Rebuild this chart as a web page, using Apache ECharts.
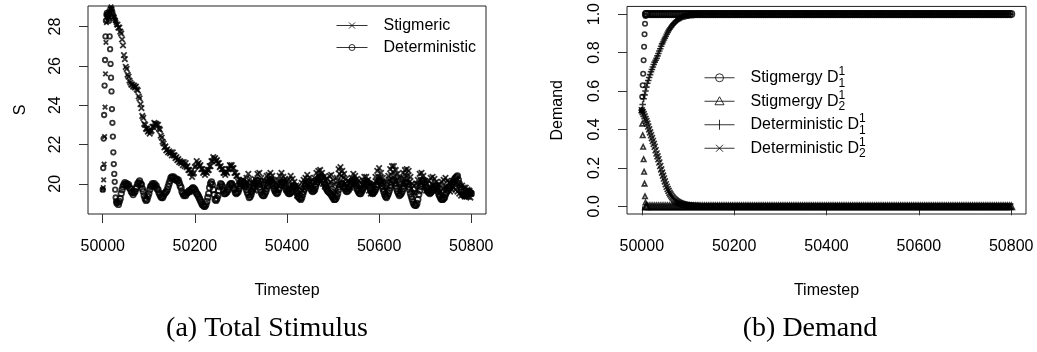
<!DOCTYPE html>
<html><head><meta charset="utf-8">
<script src="https://cdn.jsdelivr.net/npm/echarts@6/dist/echarts.min.js"></script>
<style>html,body{margin:0;padding:0;background:#fff}#c{width:1037px;height:352px}</style>
</head><body><div id="c"></div>
<script>
function seq(a, b, s) { const r = []; for (let v = a; v <= b; v += s) r.push(v); return r; }

// ---------- (a) Total Stimulus ----------
// timesteps: every step up to 50030, then every 2nd step
const stimulusT = seq(50000, 50030, 1).concat(seq(50032, 50800, 2));
const stigmericS = [
  19.7, 19.8, 20.2, 21.0, 22.4, 23.9, 25.6, 27.2, 28.2, 28.5,
  28.6, 28.5, 28.7, 28.6, 28.8, 28.7, 28.9, 28.9, 29.0, 28.9,
  28.9, 28.8, 28.7, 28.6, 28.5, 28.5, 28.4, 28.3, 28.3, 28.2, 28.1,
  28.1, 27.95, 27.95, 27.75, 27.65, 27.35, 27.05, 26.55, 26.35, 25.95,
  25.85, 25.55, 25.45, 25.25, 25.15, 25.05, 25.05, 24.95, 25.0, 24.9,
  24.95, 24.8, 24.75, 24.45, 24.35, 24.05, 23.85, 23.45, 23.35, 23.05,
  23.0, 22.8, 22.8, 22.65, 22.7, 22.55, 22.65, 22.7, 22.9, 22.9,
  23.1, 23.05, 23.05, 23.0, 23.0, 22.8, 22.75, 22.45, 22.35, 22.15,
  22.05, 21.85, 21.9, 21.7, 21.75, 21.6, 21.65, 21.55, 21.6, 21.45,
  21.6, 21.45, 21.45, 21.3, 21.35, 21.2, 21.25, 21.1, 21.15, 21.05,
  21.1, 20.95, 21.1, 20.9, 21.05, 20.85, 20.9, 20.7, 20.7, 20.55,
  20.55, 20.35, 20.5, 20.55, 20.85, 20.9, 21.15, 21.0, 21.05, 20.9,
  20.95, 20.75, 20.75, 20.55, 20.6, 20.45, 20.6, 20.55, 20.7, 20.7,
  20.9, 20.9, 21.15, 21.15, 21.35, 21.25, 21.3, 21.15, 21.2, 21.05,
  21.05, 20.85, 20.9, 20.75, 20.75, 20.55, 20.55, 20.45, 20.6, 20.55,
  20.75, 20.75, 20.95, 20.9, 20.95, 20.8, 20.8, 20.55, 20.55, 20.4,
  20.4, 20.1, 20.2, 19.9, 20.15, 20.1, 20.2, 19.85, 20.0, 19.9,
  20.3, 20.05, 20.5, 20.0, 20.25, 19.75, 20.05, 19.7, 20.0, 19.65,
  20.2, 19.95, 20.5, 20.05, 20.55, 20.0, 20.3, 19.95, 20.15, 19.7,
  20.15, 19.85, 20.4, 20.1, 20.45, 20.2, 20.55, 20.25, 20.4, 19.9,
  20.15, 19.65, 20.0, 19.7, 20.2, 19.9, 20.4, 20.05, 20.55, 20.1,
  20.35, 20.0, 20.25, 19.7, 20.15, 19.65, 20.2, 19.9, 20.4, 19.95,
  20.25, 19.9, 20.1, 19.6, 19.9, 19.4, 19.85, 19.5, 19.8, 19.55,
  20.05, 19.65, 20.2, 19.75, 20.3, 19.95, 20.45, 20.0, 20.3, 19.85,
  20.15, 19.7, 20.2, 19.75, 20.3, 20.05, 20.55, 20.1, 20.65, 20.35,
  20.7, 20.2, 20.55, 20.0, 20.35, 19.85, 20.2, 19.75, 20.25, 19.95,
  20.4, 20.1, 20.45, 19.9, 20.2, 19.65, 19.95, 19.6, 20.3, 20.15,
  20.75, 20.5, 20.85, 20.4, 20.65, 20.3, 20.5, 20.0, 20.25, 19.8,
  20.15, 19.7, 20.05, 19.8, 20.3, 19.9, 20.5, 20.05, 20.4, 19.95,
  20.25, 19.8, 20.15, 19.7, 20.05, 19.75, 20.2, 19.9, 20.35, 20.0,
  20.35, 19.9, 20.2, 19.65, 20.0, 19.5, 19.95, 19.5, 20.0, 19.75,
  20.35, 20.1, 20.65, 20.35, 20.8, 20.3, 20.55, 20.05, 20.3, 19.8,
  20.1, 19.65, 20.1, 19.85, 20.4, 20.2, 20.75, 20.45, 20.9, 20.6,
  20.9, 20.4, 20.7, 20.2, 20.5, 20.0, 20.3, 19.8, 20.3, 20.05,
  20.55, 20.25, 20.7, 20.4, 20.75, 20.4, 20.65, 20.1, 20.35, 19.75,
  20.0, 19.55, 19.9, 19.55, 20.0, 19.7, 20.2, 19.95, 20.5, 20.2,
  20.55, 20.1, 20.4, 19.85, 20.15, 19.65, 20.0, 19.65, 20.15, 19.8,
  20.3, 20.0, 20.35, 19.9, 20.25, 19.75, 20.1, 19.65, 19.95, 19.5,
  19.95, 19.6, 20.1, 19.75, 20.2, 19.85, 20.3, 19.85, 20.15, 19.7,
  20.05, 19.6, 20.05, 19.7, 20.15, 19.8, 20.15, 19.7, 20.05, 19.6,
  19.95, 19.5, 19.85, 19.4, 19.9, 19.45, 19.8, 19.35, 19.8, 19.35,
  19.7, 19.35, 19.65, 19.3, 19.5
];
const deterministicS = [
  19.7, 20.8, 22.3, 23.5, 25.0, 26.3, 27.5, 28.3, 28.6, 28.7,
  28.6, 28.5, 28.6, 28.4, 28.3,
  27.5, 26.85, 26.1, 25.4, 24.7, 23.8, 23.1, 22.4, 21.6, 21.0,
  20.5, 20.1, 19.7, 19.3, 19.1, 19.0,
  19.05, 18.95, 19.1, 19.25, 19.5, 19.7, 19.85, 19.95, 20.05, 19.95,
  20.0, 19.9, 19.95, 19.8, 19.75, 19.6, 19.55, 19.45, 19.55, 19.6,
  19.75, 19.85, 20.0, 20.05, 20.15, 20.0, 19.95, 19.75, 19.6, 19.4,
  19.25, 19.15, 19.2, 19.35, 19.5, 19.7, 19.85, 19.9, 20.0, 19.9,
  20.0, 19.85, 19.9, 19.75, 19.7, 19.55, 19.45, 19.35, 19.3, 19.3,
  19.4, 19.5, 19.55, 19.6, 19.7, 19.85, 20.0, 20.15, 20.3, 20.35,
  20.3, 20.35, 20.25, 20.2, 20.25, 20.15, 20.2, 20.05, 19.9, 19.8,
  19.6, 19.5, 19.4, 19.45, 19.4, 19.5, 19.55, 19.6, 19.65, 19.6,
  19.7, 19.75, 19.8, 19.75, 19.7, 19.6, 19.5, 19.45, 19.35, 19.25,
  19.15, 19.05, 18.95, 18.9, 18.85, 18.85, 18.95, 19.1, 19.3, 19.5,
  19.8, 20.0, 20.1, 19.95, 19.7, 19.45, 19.2, 19.15, 19.25, 19.4,
  19.65, 19.85, 20.0, 19.95, 19.85, 19.65, 19.5, 19.5, 19.55, 19.6,
  19.7, 19.85, 19.95, 20.0, 20.0, 19.9, 19.8, 19.7, 19.55, 19.5,
  19.55, 19.6, 19.75, 19.9, 20.0, 20.1, 20.1, 20.05, 19.9, 19.85,
  19.7, 19.55, 19.45, 19.3, 19.35, 19.45, 19.6, 19.75, 19.9, 20.0,
  20.1, 20.2, 20.15, 20.0, 19.85, 19.7, 19.55, 19.45, 19.4, 19.4,
  19.5, 19.6, 19.75, 19.9, 20.05, 20.1, 20.2, 20.15, 20.05, 19.9,
  19.75, 19.65, 19.55, 19.5, 19.55, 19.7, 19.8, 19.95, 20.05, 20.1,
  20.05, 20.0, 19.9, 19.75, 19.65, 19.55, 19.5, 19.5, 19.55, 19.6,
  19.75, 19.85, 19.9, 19.8, 19.65, 19.5, 19.35, 19.3, 19.25, 19.2,
  19.3, 19.45, 19.6, 19.75, 19.9, 20.0, 20.1, 20.05, 19.95, 19.9,
  19.75, 19.65, 19.6, 19.65, 19.7, 19.85, 20.0, 20.1, 20.2, 20.3,
  20.35, 20.4, 20.35, 20.25, 20.1, 19.95, 19.85, 19.75, 19.65, 19.6,
  19.55, 19.5, 19.45, 19.35, 19.3, 19.2, 19.2, 19.25, 19.35, 19.5,
  19.7, 19.85, 19.95, 20.0, 20.0, 19.9, 19.85, 19.75, 19.65, 19.6,
  19.65, 19.75, 19.85, 20.0, 20.1, 20.15, 20.2, 20.1, 20.0, 19.9,
  19.75, 19.65, 19.55, 19.5, 19.5, 19.6, 19.7, 19.8, 19.9, 20.0,
  20.05, 20.1, 20.05, 19.95, 19.8, 19.65, 19.55, 19.5, 19.55, 19.6,
  19.7, 19.85, 19.95, 20.1, 20.2, 20.15, 20.05, 19.9, 19.75, 19.6,
  19.45, 19.35, 19.3, 19.4, 19.5, 19.65, 19.8, 19.95, 20.1, 20.2,
  20.15, 20.05, 19.9, 19.75, 19.6, 19.5, 19.4, 19.45, 19.5, 19.6,
  19.75, 19.9, 20.0, 20.05, 20.1, 20.0, 19.85, 19.7, 19.5, 19.35,
  19.2, 19.05, 18.95, 18.9, 18.9, 19.0, 19.2, 19.45, 19.65, 19.85,
  20.0, 20.15, 20.2, 20.1, 19.95, 19.8, 19.7, 19.6, 19.55, 19.5,
  19.55, 19.6, 19.7, 19.8, 19.85, 19.9, 19.85, 19.75, 19.6, 19.45,
  19.35, 19.25, 19.2, 19.2, 19.25, 19.3, 19.45, 19.55, 19.65, 19.75,
  19.8, 19.85, 19.9, 20.0, 20.05, 20.15, 20.25, 20.3, 20.35, 20.4,
  20.2, 20.0, 19.85, 19.7, 19.55, 19.45, 19.4, 19.4, 19.45, 19.5,
  19.55, 19.6, 19.6, 19.55, 19.5
];

// ---------- (b) Demand ----------
const stigT = seq(50000, 50010, 1).concat(seq(50012, 50800, 4));
const stigD1 = [
  0.5, 0.57, 0.63, 0.69, 0.76, 0.83, 0.895, 0.95, 0.99, 1.0, 1.0,
  1,1,1,1,1,1,1,1,1,1,1,1,1,1,1,1,1,1,1,1,
  1,1,1,1,1,1,1,1,1,1,1,1,1,1,1,1,1,1,1,1,
  1,1,1,1,1,1,1,1,1,1,1,1,1,1,1,1,1,1,1,1,
  1,1,1,1,1,1,1,1,1,1,1,1,1,1,1,1,1,1,1,1,
  1,1,1,1,1,1,1,1,1,1,1,1,1,1,1,1,1,1,1,1,
  1,1,1,1,1,1,1,1,1,1,1,1,1,1,1,1,1,1,1,1,
  1,1,1,1,1,1,1,1,1,1,1,1,1,1,1,1,1,1,1,1,
  1,1,1,1,1,1,1,1,1,1,1,1,1,1,1,1,1,1,1,1,
  1,1,1,1,1,1,1,1,1,1,1,1,1,1,1,1,1,1,1,1,
  1,1,1,1,1,1,1,1,1,1,1,1,1,1,1,1,1,1
];
const stigD2 = [
  0.5, 0.43, 0.37, 0.31, 0.245, 0.18, 0.118, 0.052, 0.02, 0.0, 0.0,
  0,0,0,0,0,0,0,0,0,0,0,0,0,0,0,0,0,0,0,0,
  0,0,0,0,0,0,0,0,0,0,0,0,0,0,0,0,0,0,0,0,
  0,0,0,0,0,0,0,0,0,0,0,0,0,0,0,0,0,0,0,0,
  0,0,0,0,0,0,0,0,0,0,0,0,0,0,0,0,0,0,0,0,
  0,0,0,0,0,0,0,0,0,0,0,0,0,0,0,0,0,0,0,0,
  0,0,0,0,0,0,0,0,0,0,0,0,0,0,0,0,0,0,0,0,
  0,0,0,0,0,0,0,0,0,0,0,0,0,0,0,0,0,0,0,0,
  0,0,0,0,0,0,0,0,0,0,0,0,0,0,0,0,0,0,0,0,
  0,0,0,0,0,0,0,0,0,0,0,0,0,0,0,0,0,0,0,0,
  0,0,0,0,0,0,0,0,0,0,0,0,0,0,0,0,0,0
];
const detT = seq(50000, 50120, 2).concat(seq(50122, 50798, 4));
const detD1 = [
  0.5, 0.53, 0.56, 0.58, 0.60, 0.62, 0.64, 0.655, 0.67, 0.685,
  0.70, 0.712, 0.725, 0.738, 0.75, 0.76, 0.77, 0.783, 0.795, 0.808,
  0.82, 0.833, 0.845, 0.855, 0.865, 0.875, 0.885, 0.895, 0.905, 0.914,
  0.922, 0.929, 0.935, 0.942, 0.948, 0.953, 0.958, 0.963, 0.967, 0.971,
  0.974, 0.977, 0.980, 0.983, 0.985, 0.987, 0.988, 0.989, 0.99, 0.991,
  0.992, 0.993, 0.994, 0.995, 0.995, 0.996, 0.996, 0.997, 0.997, 0.998, 0.998,
  1,1,1,1,1,1,1,1,1,1,1,1,1,1,1,1,1,1,1,1,
  1,1,1,1,1,1,1,1,1,1,1,1,1,1,1,1,1,1,1,1,
  1,1,1,1,1,1,1,1,1,1,1,1,1,1,1,1,1,1,1,1,
  1,1,1,1,1,1,1,1,1,1,1,1,1,1,1,1,1,1,1,1,
  1,1,1,1,1,1,1,1,1,1,1,1,1,1,1,1,1,1,1,1,
  1,1,1,1,1,1,1,1,1,1,1,1,1,1,1,1,1,1,1,1,
  1,1,1,1,1,1,1,1,1,1,1,1,1,1,1,1,1,1,1,1,
  1,1,1,1,1,1,1,1,1,1,1,1,1,1,1,1,1,1,1,1,
  1,1,1,1,1,1,1,1,1,1
];
const detD2 = [
  0.5, 0.49, 0.48, 0.468, 0.455, 0.443, 0.43, 0.415, 0.40, 0.385,
  0.37, 0.355, 0.34, 0.325, 0.31, 0.292, 0.275, 0.26, 0.245, 0.228,
  0.21, 0.192, 0.175, 0.16, 0.145, 0.13, 0.115, 0.102, 0.09, 0.08,
  0.07, 0.062, 0.055, 0.048, 0.042, 0.037, 0.032, 0.028, 0.025, 0.022,
  0.019, 0.017, 0.015, 0.013, 0.012, 0.01, 0.009, 0.008, 0.007, 0.006,
  0.005, 0.0045, 0.004, 0.0035, 0.003, 0.0025, 0.002, 0.002, 0.002, 0.0015, 0.001,
  0,0,0,0,0,0,0,0,0,0,0,0,0,0,0,0,0,0,0,0,
  0,0,0,0,0,0,0,0,0,0,0,0,0,0,0,0,0,0,0,0,
  0,0,0,0,0,0,0,0,0,0,0,0,0,0,0,0,0,0,0,0,
  0,0,0,0,0,0,0,0,0,0,0,0,0,0,0,0,0,0,0,0,
  0,0,0,0,0,0,0,0,0,0,0,0,0,0,0,0,0,0,0,0,
  0,0,0,0,0,0,0,0,0,0,0,0,0,0,0,0,0,0,0,0,
  0,0,0,0,0,0,0,0,0,0,0,0,0,0,0,0,0,0,0,0,
  0,0,0,0,0,0,0,0,0,0,0,0,0,0,0,0,0,0,0,0,
  0,0,0,0,0,0,0,0,0,0
];

// ---------- ticks & labels ----------
const timeTicks = [50000, 50200, 50400, 50600, 50800];
const stimTicks = [20, 22, 24, 26, 28];
const demandTicks = [0, 0.2, 0.4, 0.6, 0.8, 1.0];
const captions = ['(a) Total Stimulus', '(b) Demand'];

const pairs = (t, v) => t.map((x, i) => [x, v[i]]);
const FONT = '"Liberation Sans", Arial, Helvetica, sans-serif';
const hollow = { color: 'rgba(0,0,0,0)', borderColor: '#000', borderWidth: 1 };
const heavy = { color: 'rgba(0,0,0,0)', borderColor: '#000', borderWidth: 1.6 };
const heavier = { color: 'rgba(0,0,0,0)', borderColor: '#000', borderWidth: 1.8 };
const SYM_X = 'path://M0 0L10 10M10 0L0 10';
const SYM_PLUS = 'path://M5 0L5 10M0 5L10 5';
// small marks during the sparse transient, full-size marks where points pile up
const bandSize = v => (v[1] > 0.001 && v[1] < 0.999) ? 4.5 : 6.5;
const stimSize = v => (v[0] <= 50030) ? 4.5 : 5.5;

const L_X = 'path://M0 0M31 16M0 8L31 8M12.5 5L18.5 11M18.5 5L12.5 11';
const L_O = 'path://M0 0M31 16M0 8L31 8M18.5 8A3 3 0 1 0 12.5 8A3 3 0 1 0 18.5 8';
const R_O = 'path://M0 0M30 16M0 8L30 8M19 8A4 4 0 1 0 11 8A4 4 0 1 0 19 8';
const R_T = 'path://M0 0M30 16M0 8L30 8M10.5 11.5L19.5 11.5L15 3.5Z';
const R_P = 'path://M0 0M30 16M0 8L30 8M15 3L15 13';
const R_X = 'path://M0 0M30 16M0 8L30 8M11.5 4.5L18.5 11.5M18.5 4.5L11.5 11.5';

const richNames = {
  'Stigmergy D¹₁': 'Stigmergy D{sup|1}{sub|1}',
  'Stigmergy D¹₂': 'Stigmergy D{sup|1}{sub|2}',
  'Deterministic D¹₁': 'Deterministic D{sup|1}{sub|1}',
  'Deterministic D¹₂': 'Deterministic D{sup|1}{sub|2}'
};

function xAxisCfg(grid) {
  return {
    gridIndex: grid, type: 'value', min: 49968, max: 50832,
    name: 'Timestep', nameLocation: 'middle', nameGap: 69,
    nameTextStyle: { fontSize: 16, fontFamily: FONT, color: '#000' },
    axisLine: { show: false }, splitLine: { show: false },
    axisTick: { show: true, length: 9, customValues: timeTicks, lineStyle: { color: '#333' } },
    axisLabel: { customValues: timeTicks, margin: 25, fontSize: 16, fontFamily: FONT, color: '#000',
      formatter: v => String(v) }
  };
}
function yAxisCfg(grid, name, gap, min, max, ticks, fmt) {
  return {
    gridIndex: grid, type: 'value', min: min, max: max,
    name: name, nameLocation: 'middle', nameGap: gap,
    nameTextStyle: { fontSize: 16, fontFamily: FONT, color: '#000' },
    axisLine: { show: false }, splitLine: { show: false },
    axisTick: { show: true, length: 9, customValues: ticks, lineStyle: { color: '#333' } },
    axisLabel: { customValues: ticks, rotate: 90, margin: 24, fontSize: 16, fontFamily: FONT, color: '#000', formatter: fmt }
  };
}

const option = {
  animation: false,
  backgroundColor: '#fff',
  grid: [
    { left: 88, top: 6, width: 398, height: 208, show: true, borderColor: '#222', borderWidth: 1, containLabel: false },
    { left: 627, top: 6, width: 399, height: 208, show: true, borderColor: '#222', borderWidth: 1, containLabel: false }
  ],
  xAxis: [xAxisCfg(0), xAxisCfg(1)],
  yAxis: [
    yAxisCfg(0, 'S', 59, 18.46, 29.05, stimTicks, v => String(v)),
    yAxisCfg(1, 'Demand', 61, -0.04, 1.04, demandTicks, v => v.toFixed(1))
  ],
  legend: [
    {
      left: 336, top: 17, padding: 0, orient: 'vertical', itemWidth: 31, itemHeight: 16, itemGap: 5,
      selectedMode: false,
      data: [{ name: 'Stigmeric', icon: L_X }, { name: 'Deterministic', icon: L_O }],
      itemStyle: hollow,
      textStyle: { fontSize: 16, fontFamily: FONT, color: '#000', padding: [0, 0, 0, 11] }
    },
    {
      left: 704, top: 66, padding: 0, orient: 'vertical', itemWidth: 30, itemHeight: 16, itemGap: 0,
      selectedMode: false,
      data: [
        { name: 'Stigmergy D¹₁', icon: R_O },
        { name: 'Stigmergy D¹₂', icon: R_T },
        { name: 'Deterministic D¹₁', icon: R_P },
        { name: 'Deterministic D¹₂', icon: R_X }
      ],
      itemStyle: hollow,
      formatter: n => richNames[n],
      textStyle: {
        fontSize: 16, fontFamily: FONT, color: '#000', lineHeight: 23.5, padding: [0, 0, 0, 11],
        rich: {
          sup: { fontSize: 12, fontFamily: FONT, color: '#000', lineHeight: 12, verticalAlign: 'top', width: 0.01 },
          sub: { fontSize: 12, fontFamily: FONT, color: '#000', lineHeight: 12, verticalAlign: 'bottom' }
        }
      }
    }
  ],
  series: [
    { name: 'Stigmeric', type: 'scatter', xAxisIndex: 0, yAxisIndex: 0, symbol: SYM_X, symbolSize: stimSize,
      itemStyle: heavier, silent: true, data: pairs(stimulusT, stigmericS) },
    { name: 'Deterministic', type: 'scatter', xAxisIndex: 0, yAxisIndex: 0, symbol: 'circle', symbolSize: stimSize,
      itemStyle: heavier, silent: true, data: pairs(stimulusT, deterministicS) },
    { name: 'Stigmergy D¹₁', type: 'scatter', xAxisIndex: 1, yAxisIndex: 1, symbol: 'circle', symbolSize: bandSize,
      itemStyle: heavy, silent: true, data: pairs(stigT, stigD1) },
    { name: 'Stigmergy D¹₂', type: 'scatter', xAxisIndex: 1, yAxisIndex: 1, symbol: 'triangle', symbolSize: bandSize,
      itemStyle: heavy, silent: true, data: pairs(stigT, stigD2) },
    { name: 'Deterministic D¹₁', type: 'scatter', xAxisIndex: 1, yAxisIndex: 1, symbol: SYM_PLUS, symbolSize: 6.5,
      itemStyle: heavy, silent: true, data: pairs(detT, detD1) },
    { name: 'Deterministic D¹₂', type: 'scatter', xAxisIndex: 1, yAxisIndex: 1, symbol: SYM_X, symbolSize: 6,
      itemStyle: heavy, silent: true, data: pairs(detT, detD2) }
  ],
  graphic: [
    { type: 'text', x: 267, y: 329, silent: true,
      style: { text: captions[0], font: '28px "Liberation Serif", "Times New Roman", serif', fill: '#000', align: 'center', verticalAlign: 'middle' } },
    { type: 'text', x: 810, y: 329, silent: true,
      style: { text: captions[1], font: '28px "Liberation Serif", "Times New Roman", serif', fill: '#000', align: 'center', verticalAlign: 'middle' } }
  ]
};

const chart = echarts.init(document.getElementById('c'), null, { renderer: 'canvas' });
chart.setOption(option);
</script>
</body></html>
